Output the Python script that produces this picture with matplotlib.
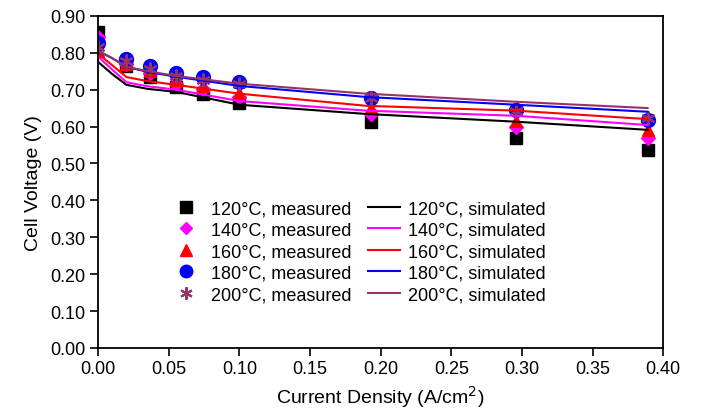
import numpy as np
import matplotlib.pyplot as plt

plt.rcParams['font.family'] = ['Liberation Sans', 'DejaVu Sans']

# measured data
x_meas = [0.0, 0.02, 0.037, 0.055, 0.074, 0.10, 0.193, 0.296, 0.389]
v120 = [0.857, 0.765, 0.735, 0.707, 0.689, 0.664, 0.613, 0.570, 0.535]
v140 = [0.843, 0.770, 0.745, 0.716, 0.702, 0.680, 0.634, 0.600, 0.570]
v160 = [0.805, 0.770, 0.750, 0.725, 0.710, 0.690, 0.650, 0.615, 0.590]
v180 = [0.825, 0.783, 0.763, 0.745, 0.733, 0.720, 0.678, 0.645, 0.618]
v200 = [0.815, 0.777, 0.755, 0.738, 0.727, 0.715, 0.678, 0.642, 0.622]

# simulated curves
x_sim = [0.0, 0.01, 0.02, 0.035, 0.055, 0.10, 0.19, 0.296, 0.389]
s120 = [0.775, 0.742, 0.713, 0.702, 0.694, 0.659, 0.634, 0.613, 0.591]
s140 = [0.789, 0.754, 0.720, 0.709, 0.700, 0.669, 0.643, 0.629, 0.604]
s160 = [0.797, 0.766, 0.734, 0.723, 0.713, 0.689, 0.656, 0.643, 0.620]
s180 = [0.805, 0.785, 0.762, 0.748, 0.735, 0.710, 0.680, 0.659, 0.640]
s200 = [0.805, 0.785, 0.762, 0.750, 0.737, 0.716, 0.689, 0.667, 0.650]

temps = ['120', '140', '160', '180', '200']
colors = ['black', '#ff00ff', '#ff0000', '#0000ff', '#993366']
markers = ['s', 'D', '^', 'o', (6, 2, 0)]
msizes = [9, 7, 9, 10, 10]

fig = plt.figure(figsize=(7.01, 4.10), dpi=100)
ax = fig.add_axes([0.14, 0.149, 0.806, 0.81])

meas = [v120, v140, v160, v180, v200]
sim = [s120, s140, s160, s180, s200]

for t, c, m, ms, v in zip(temps, colors, markers, msizes, meas):
    ax.plot(x_meas, v, linestyle='none', marker=m, color=c, markersize=ms,
            markeredgewidth=1.5 if m == (6, 2, 0) else 1.0,
            label=f'{t}°C, measured')
for t, c, s in zip(temps, colors, sim):
    ax.plot(x_sim, s, color=c, linewidth=1.5, label=f'{t}°C, simulated')

ax.set_xlim(0, 0.4)
ax.set_ylim(0, 0.9)
ax.set_xticks(np.arange(0, 0.401, 0.05))
ax.set_yticks(np.arange(0, 0.901, 0.1))
ax.xaxis.set_major_formatter(plt.FormatStrFormatter('%.2f'))
ax.yaxis.set_major_formatter(plt.FormatStrFormatter('%.2f'))
ax.tick_params(direction='out', length=6, width=1.2, labelsize=13, pad=3)
for sp in ax.spines.values():
    sp.set_linewidth(1.3)

ax.set_xlabel('Current Density (A/cm$^2$)', fontsize=14, labelpad=4)
ax.set_ylabel('Cell Voltage (V)', fontsize=14, labelpad=6)

ax.legend(ncol=2, frameon=False, fontsize=13, loc='center',
          bbox_to_anchor=(0.46, 0.29), handlelength=1.8, columnspacing=0.9,
          labelspacing=0.25, handletextpad=0.45, markerscale=0.9)

fig.savefig('out.png', dpi=100)
